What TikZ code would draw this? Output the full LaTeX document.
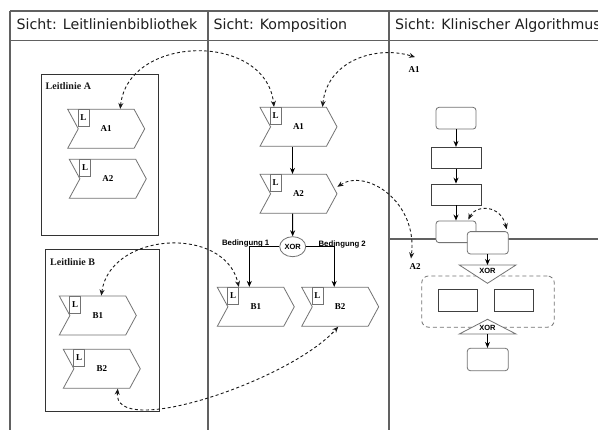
\documentclass[tikz,border=0pt]{standalone}
\usepackage{fontspec}
\setmainfont{Liberation Serif}
\newfontfamily\hdrfont{DejaVu Sans}
\newfontfamily\arialfont{Liberation Sans}
\usetikzlibrary{shapes.symbols,shapes.geometric,arrows.meta,calc}

\begin{document}
\begin{tikzpicture}[x=1pt,y=-1pt,
  lane/.style={draw=black!62, line width=1.1pt},
  hdr/.style={font=\hdrfont\fontsize{14.2}{17}\selectfont, text=black!88, anchor=base west, inner sep=0pt},
  grp/.style={draw=black!80, line width=0.8pt, anchor=north west, inner sep=0pt},
  grplabel/.style={font=\bfseries\fontsize{10}{12}\selectfont, text=black!90, anchor=base west, inner sep=0pt},
  chev/.style={signal, signal from=west, signal to=east, signal pointer angle=123,
    draw=black!55, line width=0.8pt, fill=white, minimum width=77pt, minimum height=39pt,
    inner sep=0pt, font=\bfseries\fontsize{9}{10}\selectfont},
  lbox/.style={draw=black!55, line width=0.8pt, fill=white, anchor=north west,
    minimum width=11pt, minimum height=17pt, inner sep=0pt, font=\bfseries\fontsize{9}{10}\selectfont},
  reflabel/.style={font=\bfseries\fontsize{9}{10}\selectfont, inner sep=0pt},
  cond/.style={font=\arialfont\bfseries\fontsize{7.8}{9}\selectfont, inner sep=0pt, anchor=base},
  xorfont/.style={font=\arialfont\bfseries\fontsize{7.5}{8}\selectfont, inner sep=0pt},
  rbox/.style={draw=black!55, line width=0.8pt, fill=white, rounded corners=3pt, inner sep=0pt},
  sbox/.style={draw=black!75, line width=0.8pt, fill=white, inner sep=0pt},
  tri/.style={draw=black!55, line width=0.8pt, fill=white},
  arr/.style={draw=black, line width=1pt, -{Stealth[length=6pt,width=5pt]}},
  dasharr/.style={draw=black!90, line width=0.9pt, dash pattern=on 3pt off 2.5pt,
    {Stealth[length=6pt,width=5pt]}-{Stealth[length=6pt,width=5pt]}}
]
\useasboundingbox (0,0) rectangle (598,430);
\clip (0,0) rectangle (598,430);
\fill[white] (0,0) rectangle (598,430);

% table frame and lanes
\draw[lane] (10,11) -- (598,11);
\draw[lane] (10,40.5) -- (598,40.5);
\draw[lane] (10,11) -- (10,430);
\draw[lane] (208,11) -- (208,430);
\draw[lane] (389,11) -- (389,430);
\draw[lane] (389,239) -- (598,239);

\node[hdr] (h1) at (16.5,29.5) {Sicht: Leitlinienbibliothek};
\node[hdr] (h2) at (213.5,29.5) {Sicht: Komposition};
\node[hdr] (h3) at (395,29.5) {Sicht: Klinischer Algorithmus};

% guideline library
\node[grp, minimum width=117pt, minimum height=161pt] (grpA) at (41,74) {};
\node[grplabel] (grpAlabel) at (45.5,90) {Leitlinie A};
\node[chev] (libA1) at (106.2,128.8) {A1};
\node[chev] (libA2) at (107.8,178.8) {A2};

\node[grp, minimum width=114.3pt, minimum height=161.7pt] (grpB) at (45,249.3) {};
\node[grplabel] (grpBlabel) at (50,266) {Leitlinie B};
\node[chev] (libB1) at (97.8,315.5) {B1};
\node[chev] (libB2) at (101.8,368.8) {B2};

% composition
\node[chev] (compA1) at (298.5,126.8) {A1};
\node[chev] (compA2) at (298.5,193.8) {A2};
\node[ellipse, draw=black!55, line width=0.8pt, fill=white, minimum width=26pt,
  minimum height=20pt, xorfont] (xor) at (292.7,246.7) {XOR};
\node[chev] (compB1) at (255.8,306.8) {B1};
\node[chev] (compB2) at (340.2,306.8) {B2};
\node[cond] (c1) at (245.7,245.5) {Bedingung 1};
\node[cond] (c2) at (342.2,246.5) {Bedingung 2};

% L markers
\foreach \n in {libA1,libA2,libB1,libB2,compA1,compA2,compB1,compB2}
  \node[lbox] (\n L) at ($(\n.north west)+(10.5,0)$) {L};

\draw[arr] ([xshift=-6pt]compA1.south) -- ([xshift=-6pt]compA2.north);
\draw[arr] ([xshift=-6pt]compA2.south) -- (xor.north);
\draw[arr] (xor.west) -| ([xshift=-6.5pt]compB1.north);
\draw[arr] (xor.east) -| ([xshift=-6pt]compB2.north);

% clinical algorithm
\node[reflabel] (algA1) at (414,69.3) {A1};
\node[reflabel] (algA2) at (415,266.7) {A2};
\node[rbox, minimum width=40pt, minimum height=21.7pt] (b1) at (456,118.2) {};
\node[sbox, minimum width=50pt, minimum height=21pt] (b2) at (456,157.8) {};
\node[sbox, minimum width=50pt, minimum height=21pt] (b3) at (456,194.5) {};
\node[rbox, minimum width=40pt, minimum height=21.7pt] (b4) at (456,231.8) {};
\node[rbox, minimum width=41pt, minimum height=22.3pt] (b5) at (487.8,242.8) {};
\draw[arr] (b1) -- (b2);
\draw[arr] (b2) -- (b3);
\draw[arr] (b3) -- (b4);

\node[draw=black!55, line width=0.8pt, dash pattern=on 4pt off 3pt, rounded corners=7pt,
  minimum width=132.6pt, minimum height=51.3pt, inner sep=0pt] (alt) at (488,301.6) {};
\node[sbox, minimum width=39pt, minimum height=21.7pt] (r1) at (457.8,300.2) {};
\node[sbox, minimum width=39pt, minimum height=21.7pt] (r2) at (513.8,300.2) {};

\coordinate (x1n) at (487.5,265);
\draw[tri] (459.3,265) -- (516,265) -- (487.5,283.3) -- cycle;
\node[xorfont] (x1) at (487.5,271) {XOR};
\coordinate (x2s) at (487.5,334);
\draw[tri] (459.3,334) -- (516,334) -- (487.5,319.3) -- cycle;
\node[xorfont] (x2) at (487.5,328.3) {XOR};
\node[rbox, minimum width=41pt, minimum height=22.4pt] (b6) at (487.8,359.5) {};
\draw[arr] (b5.south -| x1n) -- (x1n);
\draw[arr] (x2s) -- (b6.north -| x2s);

% cross references between views
\draw[dasharr] ([xshift=14pt]libA1.north) .. controls +(8,-75) and +(-8,-75) .. ([xshift=-24.5pt]compA1.north);
\draw[dasharr] ([xshift=24pt]compA1.north) .. controls +(5,-47) and +(-38,-12) .. ($(algA1.north)+(1,-9)$);
\draw[dasharr] ($(compA2.east)+(0,-7)$) .. controls +(28.5,-18.8) and +(7,-57) .. ($(algA2.north)+(-4,-5)$);
\draw[dasharr] ([xshift=3.5pt]libB1.north) .. controls +(8.7,-64) and +(-13.8,-62) .. ([xshift=-17pt]compB1.north);
\draw[dasharr] ([xshift=16pt]libB2.south) .. controls +(-5.8,51.7) and +(-48,54) .. ([xshift=-2pt]compB2.south);
\draw[dasharr] ($(b4.north east)+(-8,-1)$) .. controls +(7,-15) and +(-6,-25) .. ($(b5.north east)+(-2,-2)$);
\end{tikzpicture}
\end{document}
